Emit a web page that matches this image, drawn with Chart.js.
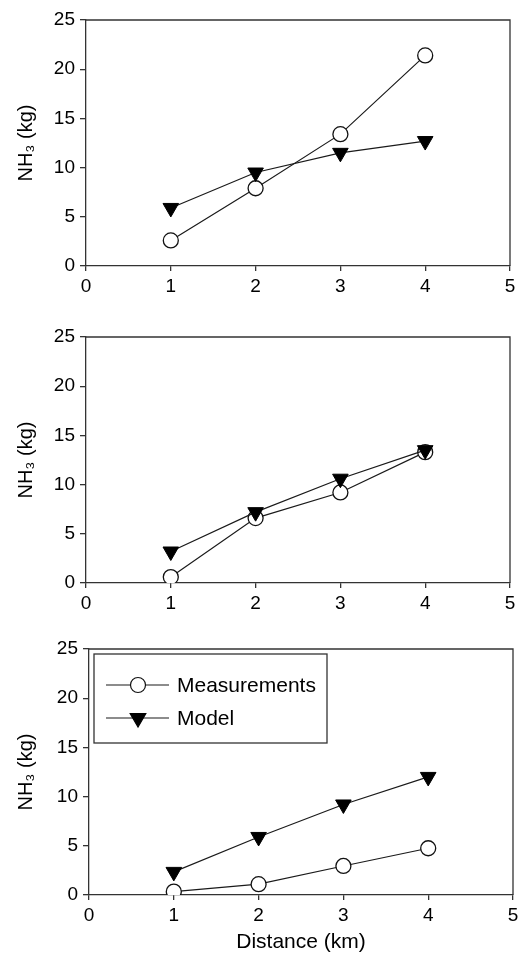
<!DOCTYPE html>
<html><head><meta charset="utf-8">
<script src="https://cdn.jsdelivr.net/npm/chart.js@4.4.1/dist/chart.umd.min.js"></script>
<style>
html,body{margin:0;padding:0;background:#fff;overflow:hidden;}
canvas{position:absolute;left:0;}
</style></head><body>
<canvas id="c1" width="527" height="300" style="top:0px"></canvas>
<canvas id="c2" width="527" height="310" style="top:300px"></canvas>
<canvas id="c3" width="527" height="345" style="top:610px"></canvas>
<script>
// ---- data ----
const distances = [1, 2, 3, 4];
const xTicks = [0, 1, 2, 3, 4, 5];
const yTicks = [0, 5, 10, 15, 20, 25];
const seriesNames = ['Measurements', 'Model'];
const panel1Measurements = [2.6, 7.9, 13.4, 21.4];
const panel1Model = [5.9, 9.5, 11.5, 12.7];
const panel2Measurements = [0.6, 6.6, 9.2, 13.3];
const panel2Model = [3.2, 7.2, 10.6, 13.5];
const panel3Measurements = [0.35, 1.1, 2.95, 4.75];
const panel3Model = [2.35, 5.9, 9.2, 12.0];
const xTitle = 'Distance (km)';
const yTitle = 'NH\u2083 (kg)';

Chart.defaults.font.family = '"Liberation Sans", Arial, sans-serif';
Chart.defaults.color = '#000';

const AXIS = '#333';

const framePlugin = {
  id: 'frame',
  beforeDatasetsDraw(chart) {
    const {ctx, chartArea: a} = chart;
    ctx.save();
    ctx.strokeStyle = AXIS; ctx.lineWidth = 1.3;
    ctx.beginPath();
    ctx.moveTo(a.left, a.top); ctx.lineTo(a.right, a.top); ctx.lineTo(a.right, a.bottom);
    ctx.stroke();
    ctx.restore();
  }
};

const boxLegend = {
  id: 'boxLegend',
  afterDraw(chart, args, o) {
    if (!o.show) return;
    const {ctx, chartArea: a} = chart;
    const x0 = a.left + 5, y0 = a.top + 5, w = 233, h = 89;
    ctx.save();
    ctx.fillStyle = '#fff'; ctx.fillRect(x0, y0, w, h);
    ctx.strokeStyle = AXIS; ctx.lineWidth = 1.3; ctx.strokeRect(x0, y0, w, h);
    chart.data.datasets.forEach((ds, i) => {
      const y = y0 + 31 + i * 33;
      ctx.strokeStyle = ds.borderColor; ctx.lineWidth = ds.borderWidth;
      ctx.beginPath(); ctx.moveTo(x0 + 12, y); ctx.lineTo(x0 + 75, y); ctx.stroke();
      ctx.fillStyle = ds.pointBackgroundColor; ctx.strokeStyle = ds.pointBorderColor;
      Chart.helpers.drawPoint(ctx, {pointStyle: ds.pointStyle, rotation: ds.pointRotation,
        radius: ds.pointRadius, borderWidth: ds.pointBorderWidth}, x0 + 44, y);
      ctx.fillStyle = '#000';
      ctx.font = '21px "Liberation Sans", Arial, sans-serif';
      ctx.textBaseline = 'middle'; ctx.textAlign = 'left';
      ctx.fillText(ds.label, x0 + 83, y + 1);
    });
    ctx.restore();
  }
};

function makePanel(id, meas, model, o) {
  return new Chart(document.getElementById(id), {
    type: 'line',
    data: {
      datasets: [
        {
          label: seriesNames[0],
          data: distances.map((d, i) => ({x: d, y: meas[i]})),
          borderColor: '#1a1a1a', borderWidth: 1.2,
          pointStyle: 'circle', pointRadius: 7.5, pointRotation: 0,
          pointBackgroundColor: '#fff', pointBorderColor: '#111', pointBorderWidth: 1.3,
          tension: 0, order: 1
        },
        {
          label: seriesNames[1],
          data: distances.map((d, i) => ({x: d, y: model[i]})),
          borderColor: '#1a1a1a', borderWidth: 1.2,
          pointStyle: 'triangle', pointRadius: 9, pointRotation: 180,
          pointBackgroundColor: '#000', pointBorderColor: '#000', pointBorderWidth: 1,
          tension: 0, order: 0
        }
      ]
    },
    options: {
      responsive: false, animation: false, devicePixelRatio: 1,
      layout: {padding: {top: o.top, right: o.right, left: 0, bottom: 0}},
      plugins: {legend: {display: false}, tooltip: {enabled: false}, boxLegend: {show: o.legend}},
      scales: {
        x: {
          type: 'linear', min: 0, max: 5,
          afterBuildTicks: s => { s.ticks = xTicks.map(v => ({value: v})); },
          afterFit: s => { s.height = o.xh; },
          grid: {drawOnChartArea: false, drawTicks: true, tickLength: 5, color: AXIS, lineWidth: 1.3},
          border: {display: true, color: AXIS, width: 1.3},
          ticks: {font: {size: 19}, padding: 4, maxRotation: 0, color: '#000'},
          title: {display: o.xTitle, text: xTitle, font: {size: 21}, padding: {top: 0, bottom: 0}, color: '#000'}
        },
        y: {
          type: 'linear', min: 0, max: 25,
          afterBuildTicks: s => { s.ticks = yTicks.map(v => ({value: v})); },
          afterFit: s => { s.width = o.yw; },
          grid: {drawOnChartArea: false, drawTicks: true, tickLength: 6, color: AXIS, lineWidth: 1.3},
          border: {display: true, color: AXIS, width: 1.3},
          ticks: {font: {size: 19}, padding: 5, color: '#000'},
          title: {display: true, text: yTitle, font: {size: 20}, padding: {top: 14, bottom: 0}, color: '#000'}
        }
      }
    },
    plugins: [framePlugin, boxLegend]
  });
}

makePanel('c1', panel1Measurements, panel1Model, {top: 20, right: 17, xh: 34, yw: 86, legend: false, xTitle: false});
makePanel('c2', panel2Measurements, panel2Model, {top: 37, right: 17, xh: 27, yw: 86, legend: false, xTitle: false});
makePanel('c3', panel3Measurements, panel3Model, {top: 39, right: 14, xh: 60, yw: 89, legend: true, xTitle: true});
</script>
</body></html>
